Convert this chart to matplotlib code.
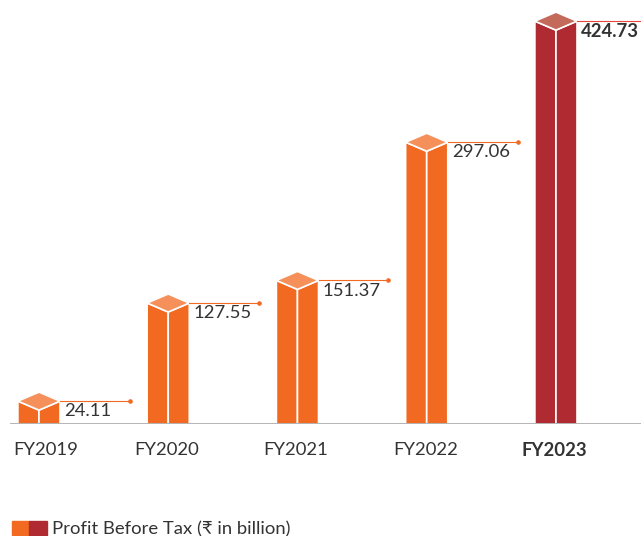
import matplotlib.pyplot as plt
from matplotlib.patches import Polygon, Patch
from matplotlib.legend_handler import HandlerTuple

years = ['FY2019', 'FY2020', 'FY2021', 'FY2022', 'FY2023']
profit = [24.11, 127.55, 151.37, 297.06, 424.73]
labels = ['24.11', '127.55', '151.37', '297.06', '424.73']

orange_side = '#F26A21'
orange_top = '#F6905A'
red_side = '#B02A31'
red_top = '#C46A5B'

plt.rcParams['font.family'] = ['Lato', 'DejaVu Sans']

fig = plt.figure(figsize=(6.41, 5.36), dpi=100)
ax = fig.add_axes([10 / 641, 112 / 536, 631 / 641, 424 / 536])
ax.set_xlim(-0.224, 4.658)
ax.set_ylim(0, 447)

w = 0.163   # half width of a bar
d = 9.5     # half height of the top diamond

for i, v in enumerate(profit):
    last = i == len(profit) - 1
    side = red_side if last else orange_side
    top = red_top if last else orange_top
    weight = 'bold' if last else 'normal'
    # left and right faces
    ax.add_patch(Polygon([(i - w, 0), (i - w, v), (i, v - d), (i, 0)],
                         closed=True, fc=side, ec='white', lw=1.2))
    ax.add_patch(Polygon([(i, 0), (i, v - d), (i + w, v), (i + w, 0)],
                         closed=True, fc=side, ec='white', lw=1.2))
    # top face
    ax.add_patch(Polygon([(i - w, v), (i, v + d), (i + w, v), (i, v - d)],
                         closed=True, fc=top, ec='white', lw=1.2))
    # leader line with dot
    line_col = '#E8463A' if last else orange_side
    ax.plot([i + w, i + w + 0.54], [v, v], color=line_col, lw=0.8)
    ax.plot([i + w + 0.54], [v], 'o', color=line_col, ms=2.3)
    ax.annotate(labels[i], xy=(i + w, v), xytext=(3, -1.5), textcoords='offset points',
                ha='left', va='top', fontsize=13.3, color='#333333', fontweight=weight)
    # category label under the baseline
    ax.annotate(years[i], xy=(i, 0), xytext=(5 if i == 0 else -1, -13),
                textcoords='offset points', ha='center', va='top',
                fontsize=13.3, color='#333333', fontweight=weight)

ax.axhline(0, color='#A8A8A8', lw=1.2)

ax.set_xticks([])
ax.set_yticks([])
for s in ax.spines.values():
    s.set_visible(False)

handles = [(Patch(color=orange_side), Patch(color=red_side))]
fig.legend(handles, ['Profit Before Tax (₹ in billion)'],
           handler_map={tuple: HandlerTuple(ndivide=None, pad=0)},
           loc='lower left', bbox_to_anchor=(10 / 641, -0.006), frameon=False,
           fontsize=13.3, handlelength=1.9, handleheight=0.85, handletextpad=0.3,
           borderpad=0, borderaxespad=0.1, labelcolor='#333333')

fig.savefig('out.png', dpi=100)
